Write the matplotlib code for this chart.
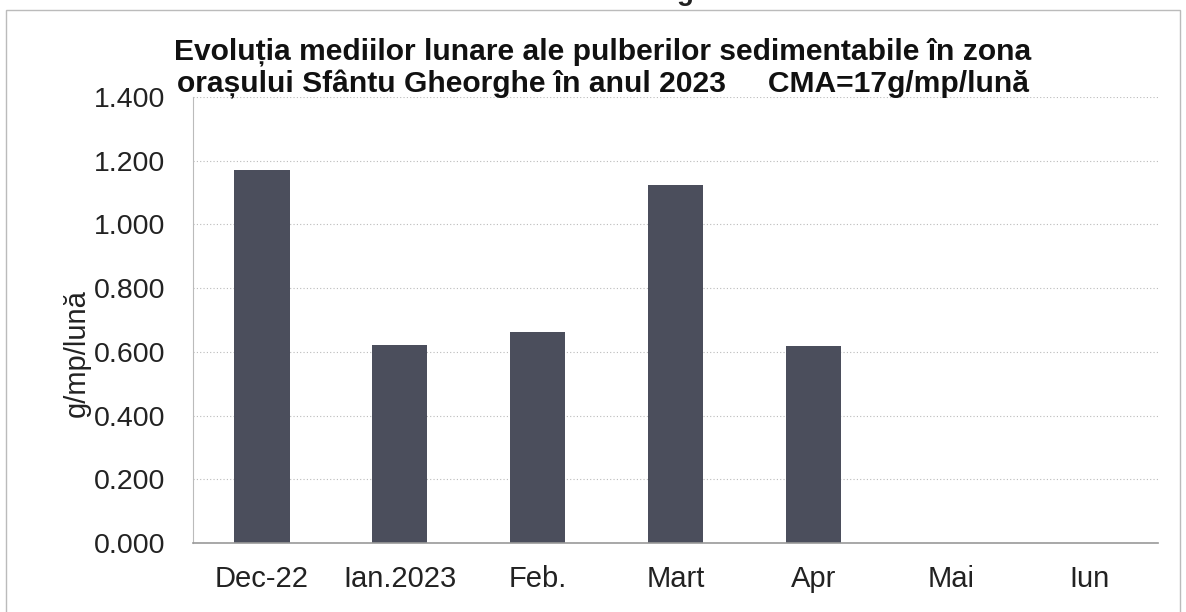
import numpy as np
import matplotlib
matplotlib.use("Agg")
from matplotlib import pyplot as plt
from matplotlib.patches import Rectangle

luni = ["Dec-22", "Ian.2023", "Feb.", "Mart", "Apr", "Mai", "Iun"]
valori = [1.170, 0.621, 0.662, 1.124, 0.618, 0.0, 0.0]
y_ticks = [0.0, 0.2, 0.4, 0.6, 0.8, 1.0, 1.2, 1.4]
y_labels = ["0.000", "0.200", "0.400", "0.600", "0.800", "1.000", "1.200", "1.400"]

plt.rcParams['font.family'] = ['Liberation Sans', 'DejaVu Sans']

fig = plt.figure(figsize=(11.86, 6.12), dpi=100)
ax = fig.add_axes([193/1186, 1-543/612, (1158-193)/1186, (543-97)/612])

x = np.arange(len(luni))
ax.bar(x, valori, width=0.4, color="#4b4e5c", zorder=2)

ax.set_xlim(-0.5, len(luni)-0.5)
ax.set_ylim(0, 1.4)
ax.set_yticks(y_ticks)
ax.set_yticklabels(y_labels, fontsize=20.5, color="#222222")
ax.set_xticks(x)
ax.set_xticklabels(luni, fontsize=21, color="#222222")
ax.tick_params(axis='both', length=0)
ax.tick_params(axis='y', pad=20)
ax.tick_params(axis='x', pad=16)
ax.grid(axis='y', linestyle=(0, (1, 2)), color="#bbbbbb", linewidth=0.8, zorder=0)
for s in ["top", "right"]:
    ax.spines[s].set_visible(False)
ax.spines["left"].set_color("#bbbbbb")
ax.spines["bottom"].set_color("#999999")
ax.spines["left"].set_linewidth(0.8)
ax.spines["bottom"].set_linewidth(1.2)

ax.set_ylabel("g/mp/lună", fontsize=21, color="#222222")
ax.yaxis.set_label_coords(-0.106, 0.425)

titlu = fig.text(603/1186, 1-68/612,
                 "Evoluția mediilor lunare ale pulberilor sedimentabile în zona\n"
                 "orașului Sfântu Gheorghe în anul 2023     CMA=17g/mp/lună",
                 ha="center", va="center", fontsize=18, fontweight="bold",
                 linespacing=1.2, color="#111111")
# potrivire latime titlu (~857 px)
fig.canvas.draw()
w = titlu.get_window_extent().width
titlu.set_fontsize(18 * 857 / w)

# rest de text de deasupra chenarului (taiat in scan)
fig.text(685/1186, 1.0, "g", ha="center", va="baseline", fontsize=20,
         fontweight="bold", color="#222222")

# chenarul graficului
fig.patches.append(Rectangle((6/1186, -0.05), (1180-6)/1186, 1-10/612+0.05,
                             transform=fig.transFigure, fill=False,
                             edgecolor="#bbbbbb", linewidth=1.0))

fig.savefig("out.png", dpi=100)
